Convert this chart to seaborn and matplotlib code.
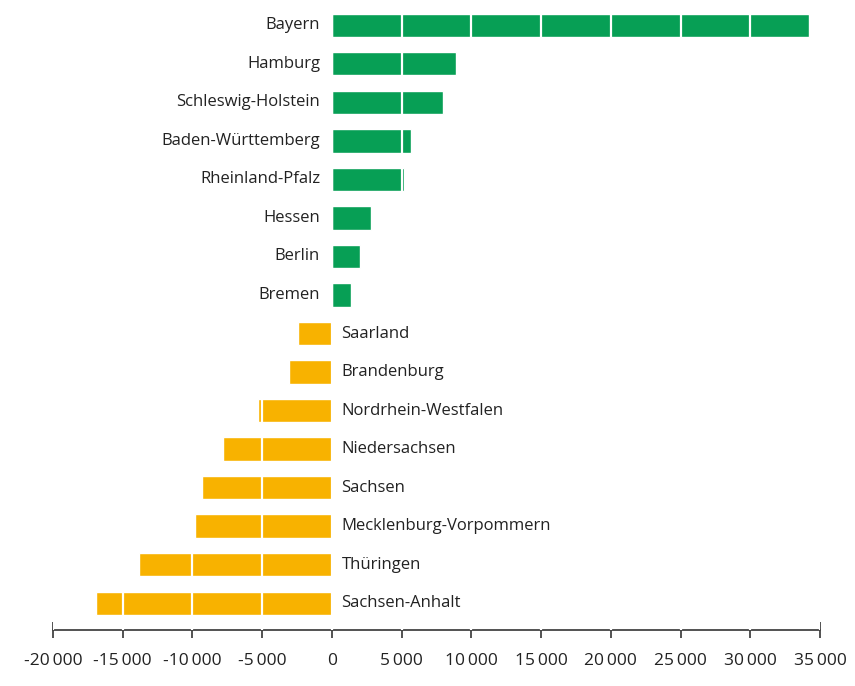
import matplotlib
matplotlib.use("Agg")
import matplotlib.pyplot as plt
from matplotlib.ticker import FixedLocator, FuncFormatter
import seaborn as sns
import pandas as pd

# Net balance per federal state
states = [
    "Bayern", "Hamburg", "Schleswig-Holstein", "Baden-Württemberg",
    "Rheinland-Pfalz", "Hessen", "Berlin", "Bremen",
    "Saarland", "Brandenburg", "Nordrhein-Westfalen", "Niedersachsen",
    "Sachsen", "Mecklenburg-Vorpommern", "Thüringen", "Sachsen-Anhalt",
]
values = [
    34200, 8900, 8000, 5700,
    5200, 2800, 2000, 1400,
    -2400, -3100, -5300, -7800,
    -9300, -9800, -13800, -16900,
]
x_ticks = [-20000, -15000, -10000, -5000, 0, 5000, 10000, 15000,
           20000, 25000, 30000, 35000]

GREEN = "#079F55"
ORANGE = "#F8B200"

df = pd.DataFrame({"state": states, "value": values})
df["sign"] = ["pos" if v >= 0 else "neg" for v in values]

sns.set_style("white")
plt.rcParams["font.family"] = ["Open Sans", "DejaVu Sans"]

fig = plt.figure(figsize=(8.55, 6.86), dpi=100)
ax = fig.add_axes([0.062, 0.0816, 0.897, 0.915])

sns.barplot(data=df, x="value", y="state", hue="sign",
            palette={"pos": GREEN, "neg": ORANGE}, orient="h",
            dodge=False, width=0.6, legend=False, saturation=1,
            ax=ax, zorder=2)

ax.set_xlim(x_ticks[0], x_ticks[-1])
ax.set_ylim(len(states) - 0.3, -0.6)

# white separators every 5000 on top of the bars
for t in x_ticks:
    ax.axvline(t, color="white", lw=1.6, zorder=3)

# state names next to the zero line
for i, (s, v) in enumerate(zip(states, values)):
    if v >= 0:
        ax.annotate(s, (0, i), xytext=(-8.5, 0), textcoords="offset points",
                    ha="right", va="center", fontsize=12, color="#222222")
    else:
        ax.annotate(s, (0, i), xytext=(7, 0), textcoords="offset points",
                    ha="left", va="center", fontsize=12, color="#222222")

ax.set_xlabel("")
ax.set_ylabel("")
ax.set_yticks([])
for side in ("top", "right", "left"):
    ax.spines[side].set_visible(False)
ax.spines["bottom"].set_color("#444444")
ax.spines["bottom"].set_linewidth(1.3)

ax.xaxis.set_major_locator(FixedLocator(x_ticks))


def fmt(v, pos):
    v = int(round(v))
    sign = "-" if v < 0 else ""
    a = abs(v)
    if a >= 1000:
        s = f"{a // 1000}\u2009{a % 1000:03d}"
    else:
        s = str(a)
    return sign + s


ax.xaxis.set_major_formatter(FuncFormatter(fmt))
ax.tick_params(axis="x", direction="inout", length=11, width=1.3,
               color="#444444", labelsize=12.5, labelcolor="#222222", pad=11,
               bottom=True)

fig.savefig("out.png", dpi=100)
